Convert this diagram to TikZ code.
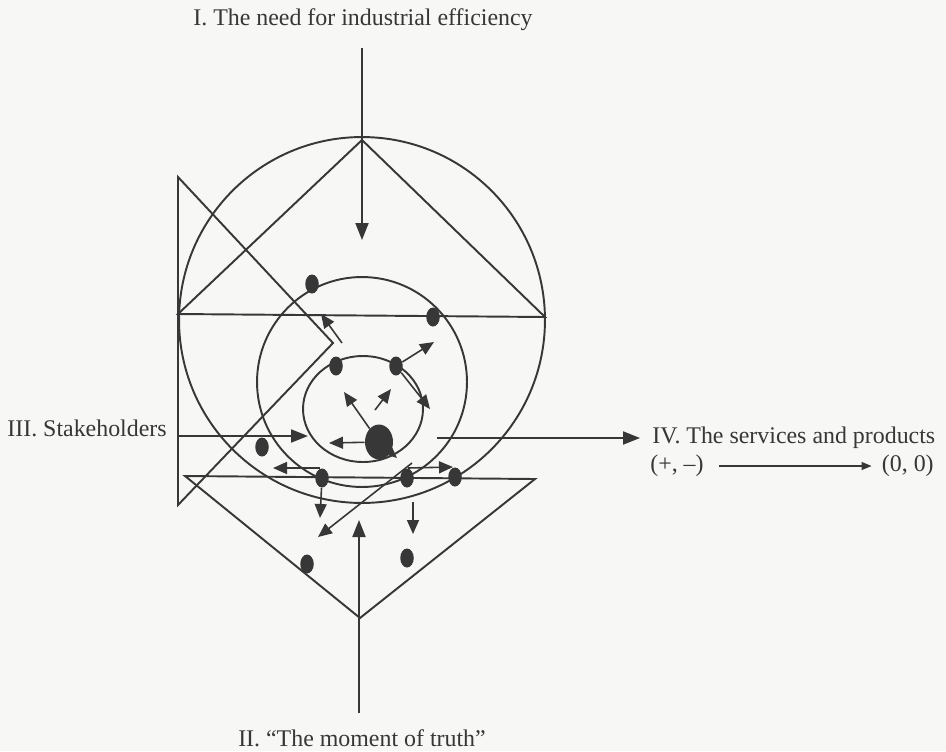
\documentclass[tikz,border=0pt]{standalone}
\usepackage{fontspec}
\setmainfont{Liberation Serif}
\usetikzlibrary{arrows.meta,shapes.geometric}
\definecolor{ink}{RGB}{55,55,55}
\definecolor{paper}{RGB}{247,247,245}
\tikzset{
  >={Triangle[length=3.4mm,width=2.6mm]},
  edge/.style={draw=ink,line width=1.1pt},
  flow/.style={->,draw=ink,line width=1.1pt},
  tick/.style={-{Triangle[length=2.8mm,width=2.4mm]},draw=ink,line width=0.9pt},
  thin flow/.style={-{Triangle[length=2mm,width=1.6mm]},draw=ink,line width=0.6pt},
  dot/.style={ellipse,fill=ink,inner sep=0pt,minimum width=2.7mm,minimum height=3.8mm},
  bigdot/.style={dot,minimum width=5.6mm,minimum height=7mm},
  tag/.style={font=\fontsize{13.6}{16}\selectfont,text=ink,inner sep=0pt},
}

\begin{document}
\begin{tikzpicture}[x=0.02cm,y=-0.02cm]
  \fill[paper] (0,0) rectangle (946,751);
  \useasboundingbox (0,0) rectangle (946,751);
  % rings
  \draw[edge] (362,320) circle [radius=3.66cm];
  \draw[edge] (362,382) circle [radius=2.1cm];
  \draw[edge] (363,409) ellipse [x radius=1.2cm, y radius=1.06cm];
  % triangles
  \coordinate (apex) at (362,140);
  \coordinate (tl) at (178,314);
  \coordinate (tr) at (545,317);
  \draw[edge] (tl) -- (apex) -- (tr) -- cycle;
  \coordinate (lt) at (178,177);
  \coordinate (notch) at (333,343);
  \coordinate (lb) at (178,505);
  \draw[edge] (lt) -- (notch) -- (lb) -- cycle;
  \coordinate (bl) at (185,476);
  \coordinate (br) at (535,479);
  \coordinate (bt) at (360,618);
  \draw[edge] (bl) -- (br) -- (bt) -- cycle;

  % labels
  \node[tag] (need) at (363,20) {I. The need for industrial efficiency};
  \node[tag] (truth) at (362,738) {II. ``The moment of truth''};
  \node[tag,anchor=east] (stake) at (167,428) {III. Stakeholders};
  \node[tag,anchor=west] (serv) at (652,438) {IV. The services and products};
  \node[tag,anchor=west] (from) at (650,466) {(+, --)};
  \node[tag,anchor=east] (to) at (934,466) {(0, 0)};

  % main arrows
  \coordinate (needtop) at (362,48);
  \coordinate (needtip) at (362,240);
  \draw[flow] (needtop) -- (needtip);
  \coordinate (truthbot) at (359,713);
  \coordinate (truthtip) at (359,520);
  \draw[flow] (truthbot) -- (truthtip);
  \coordinate (stakein) at (178,436);
  \coordinate (staketip) at (308,436);
  \draw[flow] (stakein) -- (staketip);
  \coordinate (servout) at (437,438);
  \coordinate (servtip) at (640,438);
  \draw[flow] (servout) -- (servtip);
  \draw[thin flow] ([xshift=3mm]from.east) -- ([xshift=-2mm]to.west);

  % actors
  \node[dot] (d1) at (312,284) {};
  \node[dot] (d2) at (433,317) {};
  \node[dot] (d3) at (336,366) {};
  \node[dot] (d4) at (396,366) {};
  \node[bigdot] (core) at (379,442) {};
  \node[dot] (d6) at (262,447) {};
  \node[dot] (d7) at (322,478) {};
  \node[dot] (d8) at (407,478) {};
  \node[dot] (d9) at (455,477) {};
  \node[dot] (d10) at (307,564) {};
  \node[dot] (d11) at (407,558) {};

  % small moves
  \coordinate (as) at (342,343);
  \coordinate (at) at (321,314);
  \draw[tick] (as) -- (at);
  \coordinate (bt4) at (434,342);
  \draw[tick] (d4) -- (bt4);
  \coordinate (ct4) at (430,409);
  \draw[tick] (d4) -- (ct4);
  \coordinate (dt) at (344,392);
  \draw[tick] (core) -- (dt);
  \coordinate (es) at (375,410);
  \coordinate (et) at (391,389);
  \draw[tick] (es) -- (et);
  \coordinate (ft) at (329,443);
  \draw[tick] (core) -- (ft);
  \coordinate (gt) at (397,458);
  \draw[tick] (core) -- (gt);
  \coordinate (hs) at (320,468);
  \coordinate (ht) at (273,468);
  \draw[tick] (hs) -- (ht);
  \coordinate (it) at (320,518);
  \draw[tick] (d7) -- (it);
  \coordinate (js) at (408,468);
  \coordinate (jt) at (453,467);
  \draw[tick] (js) -- (jt);
  \coordinate (ks) at (412,463);
  \coordinate (kt) at (318,537);
  \draw[tick] (ks) -- (kt);
  \coordinate (ls) at (413,502);
  \coordinate (lt2) at (413,534);
  \draw[tick] (ls) -- (lt2);
\end{tikzpicture}
\end{document}
